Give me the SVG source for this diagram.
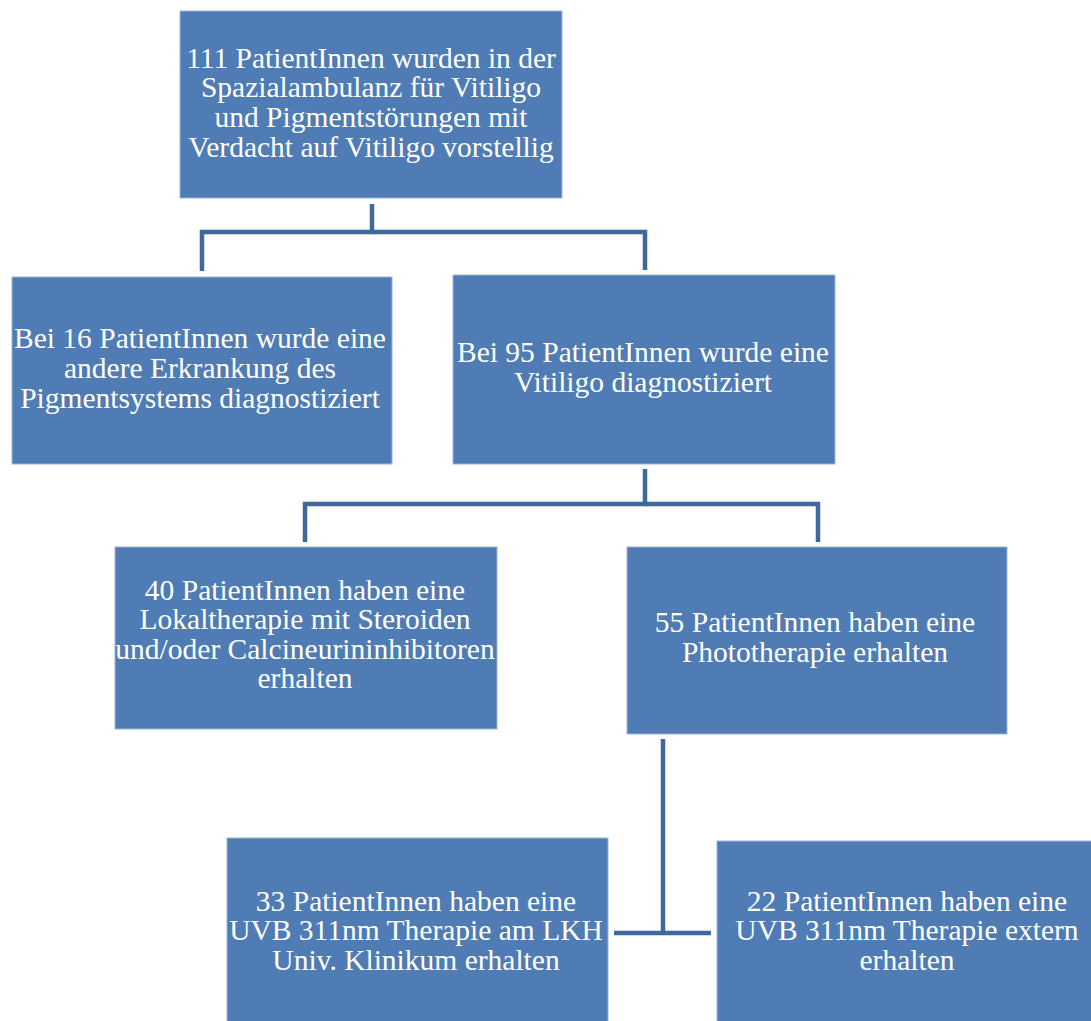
<svg xmlns="http://www.w3.org/2000/svg" width="1091" height="1021" viewBox="0 0 1091 1021">
<style>
.box{fill:#4F7CB4;stroke:#9DB4D6;stroke-width:1}
.lbl{font-family:"Liberation Serif","Times New Roman",serif;font-size:29.5px;fill:#ffffff;text-anchor:middle}
.con{fill:none;stroke:#3F699D;stroke-width:4.5}
</style>
<rect width="1091" height="1021" fill="#ffffff"/>
<g id="connectors">
<path class="con" d="M372,204 V232 H202 V271"/>
<path class="con" d="M372,232 H645 V270"/>
<path class="con" d="M645,469 V504 H305 V542"/>
<path class="con" d="M645,504 H818 V542"/>
<path class="con" d="M663,739 V933"/>
<path class="con" d="M614,933 H711"/>
</g>
<g id="n1">
<rect class="box" x="180" y="11" width="382" height="187"/>
<text class="lbl" x="371" y="67.5">111 PatientInnen wurden in der</text>
<text class="lbl" x="371" y="97">Spazialambulanz für Vitiligo</text>
<text class="lbl" x="371" y="127">und Pigmentstörungen mit</text>
<text class="lbl" x="371" y="156.5">Verdacht auf Vitiligo vorstellig</text>
</g>
<g id="n2">
<rect class="box" x="12" y="277" width="380" height="187"/>
<text class="lbl" x="200" y="348">Bei 16 PatientInnen wurde eine</text>
<text class="lbl" x="200" y="378">andere Erkrankung des</text>
<text class="lbl" x="200" y="408">Pigmentsystems diagnostiziert</text>
</g>
<g id="n3">
<rect class="box" x="453" y="275" width="382" height="189"/>
<text class="lbl" x="643" y="362">Bei 95 PatientInnen wurde eine</text>
<text class="lbl" x="643" y="392">Vitiligo diagnostiziert</text>
</g>
<g id="n4">
<rect class="box" x="115" y="547" width="382" height="182"/>
<text class="lbl" x="305" y="599.5">40 PatientInnen haben eine</text>
<text class="lbl" x="305" y="629">Lokaltherapie mit Steroiden</text>
<text class="lbl" x="305" y="658.5">und/oder Calcineurininhibitoren</text>
<text class="lbl" x="305" y="688">erhalten</text>
</g>
<g id="n5">
<rect class="box" x="627" y="547" width="380" height="187"/>
<text class="lbl" x="815" y="632">55 PatientInnen haben eine</text>
<text class="lbl" x="815" y="662">Phototherapie erhalten</text>
</g>
<g id="n6">
<rect class="box" x="227" y="838" width="381" height="195"/>
<text class="lbl" x="416" y="910.5">33 PatientInnen haben eine</text>
<text class="lbl" x="416" y="940">UVB 311nm Therapie am LKH</text>
<text class="lbl" x="416" y="969.5">Univ. Klinikum erhalten</text>
</g>
<g id="n7">
<rect class="box" x="717" y="841" width="385" height="192"/>
<text class="lbl" x="907" y="910.5">22 PatientInnen haben eine</text>
<text class="lbl" x="907" y="940">UVB 311nm Therapie extern</text>
<text class="lbl" x="907" y="969.5">erhalten</text>
</g>
</svg>
